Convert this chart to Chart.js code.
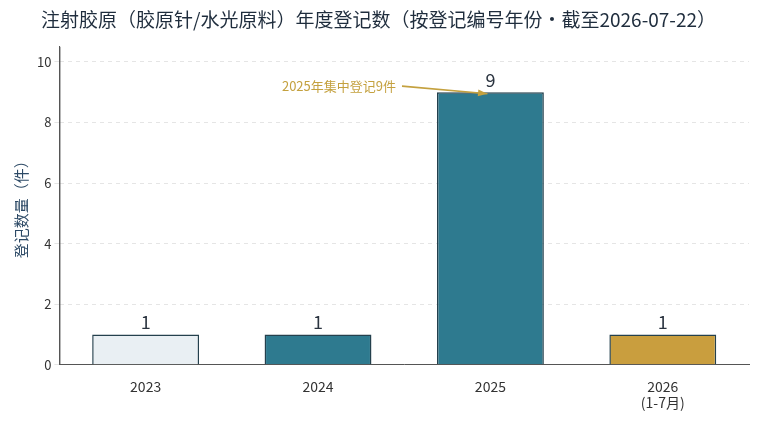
<!DOCTYPE html>
<html><head><meta charset="utf-8">
<script src="https://cdn.jsdelivr.net/npm/chart.js@4"></script>
<style>
html,body{margin:0;padding:0;background:#fff;}
#wrap{width:767px;height:425px;position:relative;}
</style></head>
<body><div id="wrap"><canvas id="c"></canvas></div>
<script>
var categories = [['2023'], ['2024'], ['2025'], ['2026', '(1-7月)']];
var counts = [1, 1, 9, 1];
var barColors = ['#e9eff3', '#2e7a8f', '#2e7a8f', '#c99e3e'];
var yTicks = [0, 2, 4, 6, 8, 10];
var noteText = '2025年集中登记9件';

var FONT = "'Noto Sans CJK SC','Noto Sans',sans-serif";

var labelPlugin = {
  id: 'labels',
  afterDatasetsDraw: function (chart) {
    var ctx = chart.ctx, meta = chart.getDatasetMeta(0);
    var xs = chart.scales.x, ys = chart.scales.y, area = chart.chartArea;
    ctx.save();
    // solid left axis line
    ctx.strokeStyle = '#555'; ctx.lineWidth = 1;
    ctx.beginPath(); ctx.moveTo(area.left + 0.5, area.top); ctx.lineTo(area.left + 0.5, area.bottom); ctx.stroke();
    ctx.fillStyle = '#2b3440';
    ctx.font = '18px ' + FONT;
    ctx.textAlign = 'center';
    ctx.textBaseline = 'bottom';
    meta.data.forEach(function (bar, i) {
      ctx.fillText(String(counts[i]), bar.x, bar.y - 3);
    });
    // annotation
    var tx = xs.getPixelForValue(1) + 78, ty = ys.getPixelForValue(9.2);
    var ax = xs.getPixelForValue(2) - 3, ay = ys.getPixelForValue(8.95);
    ctx.fillStyle = '#c4a13f';
    ctx.font = '13px ' + FONT;
    ctx.textAlign = 'right';
    ctx.textBaseline = 'middle';
    ctx.fillText(noteText, tx, ty);
    var sx = tx + 6, sy = ty;
    ctx.strokeStyle = '#c4a13f';
    ctx.lineWidth = 1.6;
    ctx.beginPath(); ctx.moveTo(sx, sy); ctx.lineTo(ax, ay); ctx.stroke();
    var ang = Math.atan2(ay - sy, ax - sx);
    ctx.beginPath();
    ctx.moveTo(ax, ay);
    ctx.lineTo(ax - 10 * Math.cos(ang - 0.35), ay - 10 * Math.sin(ang - 0.35));
    ctx.lineTo(ax - 10 * Math.cos(ang + 0.35), ay - 10 * Math.sin(ang + 0.35));
    ctx.closePath(); ctx.fillStyle = '#c4a13f'; ctx.fill();
    ctx.restore();
  }
};

new Chart(document.getElementById('c'), {
  type: 'bar',
  data: {
    labels: categories,
    datasets: [{
      data: counts,
      backgroundColor: barColors,
      borderColor: '#24404d',
      borderWidth: 1.5,
      categoryPercentage: 1,
      barPercentage: 0.62
    }]
  },
  plugins: [labelPlugin],
  options: {
    responsive: true, maintainAspectRatio: false, animation: false,
    layout: { padding: { left: 8, right: 18, top: 0, bottom: 8 } },
    plugins: {
      legend: { display: false },
      tooltip: { enabled: false },
      title: {
        display: true,
        text: '注射胶原（胶原针/水光原料）年度登记数（按登记编号年份·截至2026-07-22）',
        color: '#1f2d3d',
        font: { family: FONT, size: 19, weight: 'normal' },
        padding: { top: 8, bottom: 16 }
      }
    },
    scales: {
      x: {
        grid: { display: false, drawTicks: true },
        border: { color: '#555', width: 1 },
        ticks: { color: '#333', font: { family: FONT, size: 14, lineHeight: 1.15 }, padding: 6 }
      },
      y: {
        min: 0, max: 10.5,
        afterBuildTicks: function (s) { s.ticks = yTicks.map(function (v) { return { value: v }; }); },
        grid: { color: 'rgba(0,0,0,0.1)', tickLength: 5 },
        border: { color: '#555', width: 1, dash: [4, 4] },
        ticks: { color: '#333', font: { family: FONT, size: 13 } },
        title: { display: true, text: '登记数量（件）', color: '#2d4a66', font: { family: FONT, size: 15 } }
      }
    }
  }
});
</script></body></html>
